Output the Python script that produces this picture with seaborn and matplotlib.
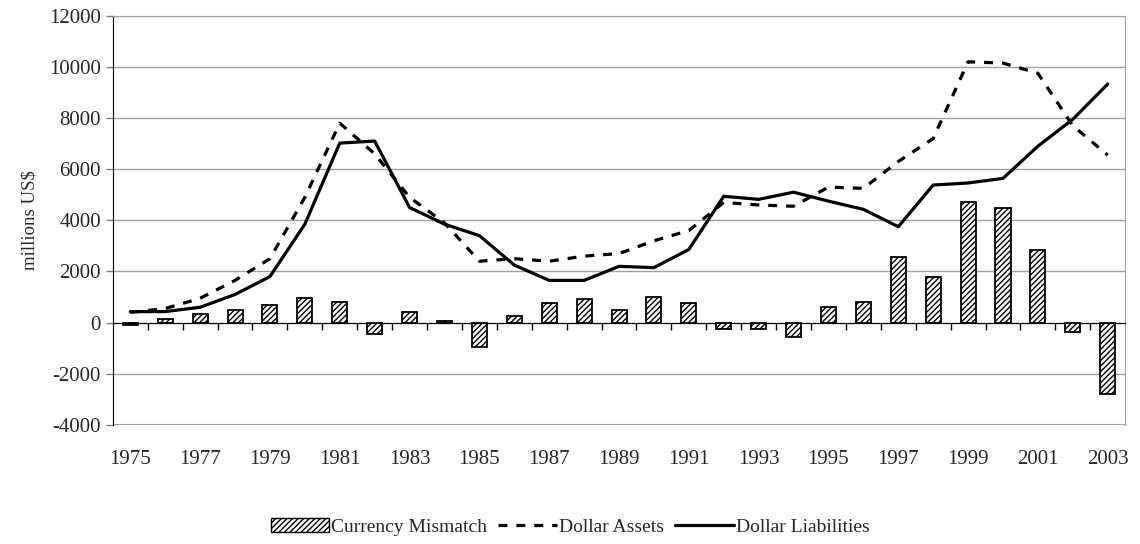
import numpy as np
import matplotlib
matplotlib.use('Agg')
import matplotlib.pyplot as plt
import seaborn as sns
from matplotlib.patches import Patch
from matplotlib.lines import Line2D

years = list(range(1975, 2004))
mismatch = [-100, 150, 350, 500, 700, 950, 800, -450, 400, 50,
            -950, 250, 780, 940, 500, 1000, 750, -250, -250, -550,
            600, 800, 2550, 1800, 4700, 4500, 2820, -350, -2800]
assets = [400, 550, 950, 1650, 2500, 4900, 7800, 6600, 4900, 3900,
          2400, 2500, 2400, 2600, 2700, 3200, 3600, 4700, 4600, 4550,
          5300, 5250, 6300, 7200, 10200, 10150, 9750, 7700, 6550]
liabilities = [430, 430, 600, 1100, 1800, 3850, 7020, 7100, 4500, 3850,
               3400, 2250, 1650, 1650, 2200, 2150, 2860, 4940, 4820, 5100,
               4750, 4430, 3750, 5380, 5460, 5640, 6900, 7950, 9330]

sns.set_style('white')
plt.rcParams['font.family'] = ['Liberation Serif', 'DejaVu Serif']
plt.rcParams['axes.unicode_minus'] = False
plt.rcParams['hatch.linewidth'] = 1.0
fs = 15

fig = plt.figure(figsize=(11.4, 5.44), dpi=100)
ax = fig.add_axes([0.099, 0.219, 0.888, 0.752])

pos = np.arange(len(years))
sns.barplot(x=pos, y=mismatch, color='white', width=0.43, edgecolor='black',
            linewidth=1.3, hatch='//////', ax=ax, native_scale=True)
sns.lineplot(x=pos, y=assets, color='black', lw=2.3, ax=ax)
ax.lines[-1].set_dashes((2.8, 2.8))
sns.lineplot(x=pos, y=liabilities, color='black', lw=2.3, ax=ax)

ax.set_xlim(-0.5, len(years) - 0.5)
ax.set_ylim(-4000, 12000)
ax.set_yticks(range(-4000, 12001, 2000))
ax.yaxis.grid(True, color='#a0a0a0', lw=1)
ax.set_axisbelow(True)
ax.set_ylabel('millions US$', fontsize=13.5, labelpad=8)
ax.tick_params(axis='y', labelsize=fs, left=True, length=5, width=1, color='#808080')

# category axis sits on zero, with tick marks between years
for s in ['top', 'right']:
    ax.spines[s].set_color('#a0a0a0')
ax.spines['left'].set_color('black')
ax.spines['bottom'].set_position(('data', 0))
ax.spines['bottom'].set_color('black')
ax.set_xticks(np.arange(0.5, len(years) - 0.5, 1))
ax.set_xticklabels([])
ax.tick_params(axis='x', bottom=True, direction='out', length=5, width=1, color='black')
ax.axhline(-4000, color='#a0a0a0', lw=1.5)

sec = ax.secondary_xaxis(0.0)
sec.set_xticks(pos[::2])
sec.set_xticklabels([str(y) for y in years[::2]], fontsize=fs)
sec.tick_params(length=0, pad=18)
sec.spines['bottom'].set_visible(False)

handles = [Patch(facecolor='white', edgecolor='black', hatch='//////'),
           Line2D([], [], color='black', lw=2.3, dashes=(2.8, 2.8)),
           Line2D([], [], color='black', lw=2.3)]
fig.legend(handles, ['Currency Mismatch', 'Dollar Assets', 'Dollar Liabilities'],
           loc='center', bbox_to_anchor=(0.5, 0.031), ncol=3, frameon=False,
           fontsize=14, handlelength=3.0, handletextpad=0.1, columnspacing=0.6)

fig.savefig('out.png', dpi=100)
